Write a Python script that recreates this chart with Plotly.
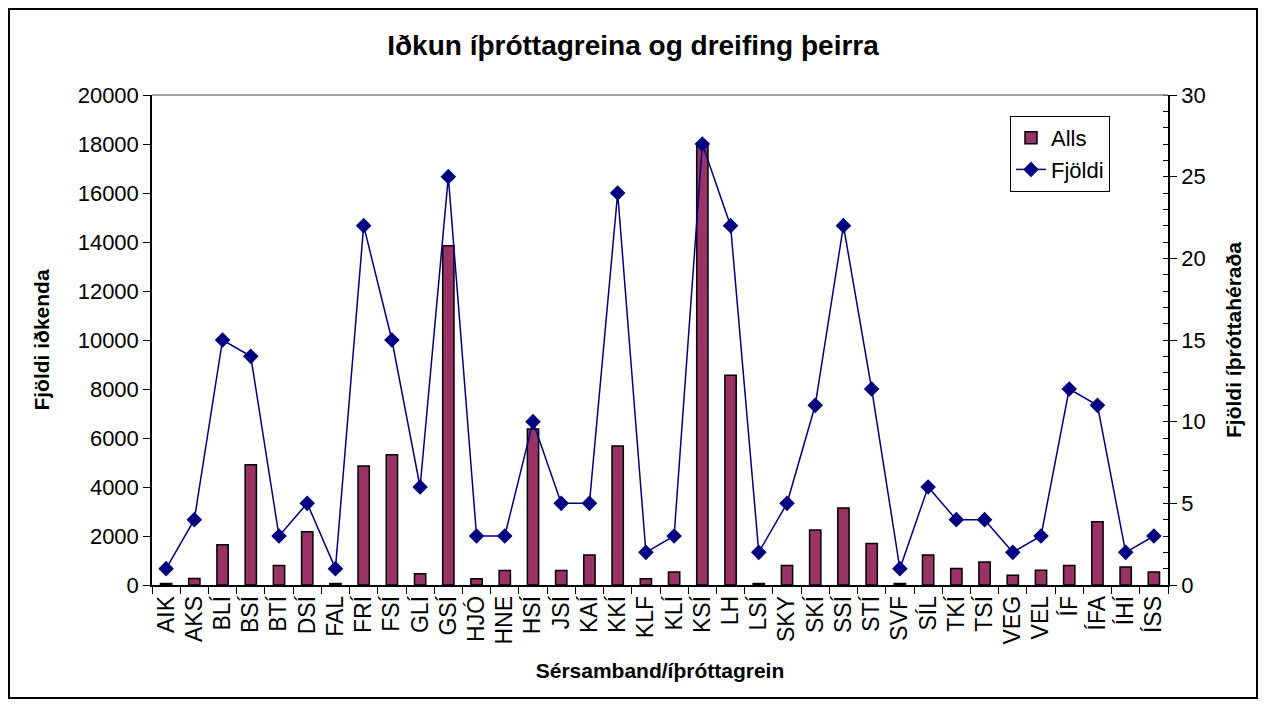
import plotly.graph_objects as go

categories = ["AIK", "AKS", "BLÍ", "BSÍ", "BTÍ", "DSÍ", "FAL", "FRÍ", "FSÍ", "GLÍ",
              "GSÍ", "HJÓ", "HNE", "HSÍ", "JSÍ", "KAÍ", "KKÍ", "KLF", "KLÍ", "KSÍ",
              "LH", "LSÍ", "SKY", "SKÍ", "SSÍ", "STÍ", "SVF", "SÍL", "TKÍ", "TSÍ",
              "VEG", "VEL", "ÍF", "ÍFA", "ÍHÍ", "ÍSS"]

alls = [60, 270, 1640, 4910, 800, 2170, 60, 4860, 5320, 460,
        13850, 260, 590, 6370, 590, 1220, 5670, 260, 530, 18050,
        8560, 60, 800, 2240, 3140, 1690, 60, 1220, 670, 940,
        400, 600, 800, 2580, 730, 530]

fjoldi = [1, 4, 15, 14, 3, 5, 1, 22, 15, 6,
          25, 3, 3, 10, 5, 5, 24, 2, 3, 27,
          22, 2, 5, 11, 22, 12, 1, 6, 4, 4,
          2, 3, 12, 11, 2, 3]

FONT = "Arial, 'Liberation Sans', sans-serif"

fig = go.Figure()
fig.add_trace(go.Bar(
    x=categories, y=alls, name="Alls",
    marker=dict(color="#993366", line=dict(color="black", width=1.5)),
))
fig.add_trace(go.Scatter(
    x=categories, y=fjoldi, name="Fjöldi", yaxis="y2",
    mode="lines+markers",
    line=dict(color="#000080", width=1.5),
    marker=dict(symbol="diamond", size=12, color="#000080"),
))

# figure drawn at 1250x691 (page body adds 8px margin)
W, H = 1250, 691
L, R, T, B = 144, 1160, 87, 577
pw, ph = R - L, B - T

fig.update_layout(
    width=W, height=H,
    margin=dict(l=L, r=W - R, t=T, b=H - B, autoexpand=False),
    paper_bgcolor="white", plot_bgcolor="white",
    font=dict(family=FONT, color="black", size=21),
    bargap=0.6,
    showlegend=True,
    title=dict(text="<b>Iðkun íþróttagreina og dreifing þeirra</b>",
               x=0.5, xanchor="center", y=1 - 37 / H, yanchor="middle",
               font=dict(size=28, family=FONT)),
    xaxis=dict(
        type="category", range=[-0.5, len(categories) - 0.5],
        tickangle=-90, tickson="boundaries",
        tickmode="array", tickvals=categories, ticktext=categories,
        ticks="outside", ticklen=7, tickcolor="black",
        showline=True, linecolor="black", linewidth=1.5,
        showgrid=False, tickfont=dict(size=23),
        title=dict(text="<b>Sérsamband/íþróttagrein</b>", font=dict(size=21), standoff=20),
        automargin=False,
    ),
    yaxis=dict(
        range=[0, 20000], dtick=2000, tickformat="d",
        ticks="outside", ticklen=7, tickcolor="black",
        showline=True, linecolor="black", linewidth=1.5, showgrid=False,
        zeroline=False, tickfont=dict(size=22),
        title=dict(text="<b>Fjöldi iðkenda</b>", font=dict(size=21), standoff=22),
        automargin=False,
    ),
    yaxis2=dict(
        range=[0, 30], dtick=5, overlaying="y", side="right",
        ticks="outside", ticklen=7, tickcolor="black",
        minor=dict(dtick=1, ticks="inside", ticklen=5, tickcolor="black"),
        showline=True, linecolor="black", linewidth=1.5, showgrid=False,
        zeroline=False, tickfont=dict(size=22),
        title=dict(text="<b>Fjöldi íþróttahéraða</b>", font=dict(size=21), standoff=22),
        automargin=False,
    ),
    legend=dict(
        x=(1002 - L) / pw, xanchor="left", y=(B - 108) / ph, yanchor="top",
        bordercolor="black", borderwidth=1, bgcolor="white",
        font=dict(size=22), traceorder="normal",
    ),
    shapes=[
        dict(type="line", xref="paper", yref="paper", x0=0, x1=1, y0=1, y1=1,
             line=dict(color="#808080", width=1.5)),
        dict(type="rect", xref="paper", yref="paper",
             x0=(1 - L) / pw, x1=(1249 - L) / pw,
             y0=(B - 690) / ph, y1=(B - 1) / ph,
             line=dict(color="black", width=2)),
    ],
)

fig.write_html("out.html")
